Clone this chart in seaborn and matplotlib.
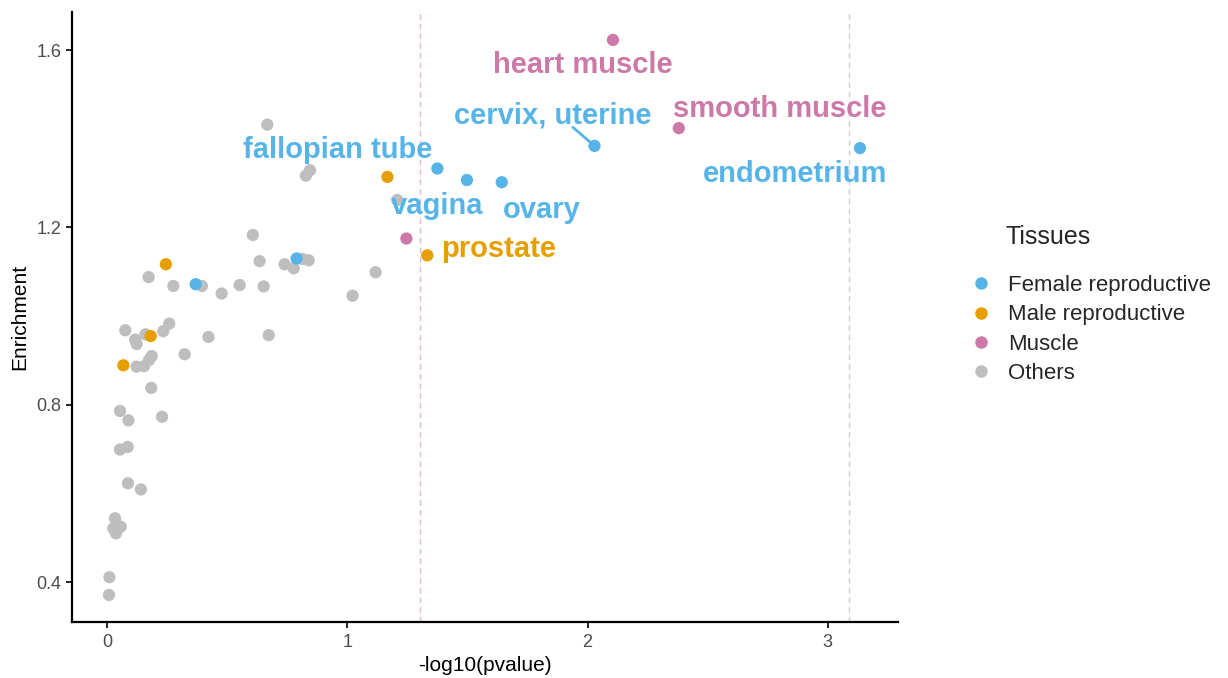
import numpy as np
import pandas as pd
import matplotlib
matplotlib.use("Agg")
import matplotlib.pyplot as plt
import seaborn as sns

# values
female_x = [0.369, 0.789, 1.375, 1.498, 1.643, 2.029, 3.134]
female_y = [1.072, 1.130, 1.333, 1.307, 1.302, 1.384, 1.379]
female_names = ["", "", "fallopian tube", "vagina", "ovary", "cervix, uterine", "endometrium"]

male_x = [0.068, 0.182, 0.245, 1.167, 1.333]
male_y = [0.889, 0.955, 1.117, 1.314, 1.137]
male_names = ["", "", "", "", "prostate"]

muscle_x = [1.246, 2.106, 2.380]
muscle_y = [1.175, 1.623, 1.424]
muscle_names = ["", "heart muscle", "smooth muscle"]

others_x = [0.607, 0.173, 0.276, 0.395, 0.477, 0.552, 0.635, 0.652, 0.739, 0.777,
            0.813, 0.839, 0.076, 0.117, 0.123, 0.160, 0.234, 0.259, 0.422, 0.673,
            0.323, 0.186, 0.175, 0.154, 0.123, 0.184, 0.054, 0.089, 0.229, 0.054,
            0.086, 0.087, 0.141, 0.033, 0.026, 0.057, 0.037, 0.010, 0.008, 0.667,
            0.845, 0.828, 1.208, 1.118, 1.022]
others_y = [1.183, 1.088, 1.068, 1.068, 1.051, 1.070, 1.124, 1.067, 1.117, 1.108,
            1.129, 1.126, 0.968, 0.947, 0.937, 0.959, 0.966, 0.983, 0.953, 0.957,
            0.914, 0.910, 0.901, 0.887, 0.886, 0.838, 0.786, 0.765, 0.773, 0.699,
            0.705, 0.623, 0.609, 0.544, 0.521, 0.525, 0.510, 0.411, 0.371, 1.432,
            1.329, 1.317, 1.262, 1.099, 1.046]

groups = ["Female reproductive", "Male reproductive", "Muscle", "Others"]
colors = ["#56B4E9", "#E69F00", "#CC79A7", "#BEBEBE"]

p_cut = -np.log10(0.05)
bonf_cut = 3.088

# label placement (text centres in data units), repel-style
label_pos = {
    "fallopian tube": (0.961, 1.375),
    "vagina": (1.373, 1.248),
    "ovary": (1.810, 1.240),
    "cervix, uterine": (1.856, 1.452),
    "endometrium": (2.863, 1.320),
    "prostate": (1.631, 1.151),
    "heart muscle": (1.981, 1.566),
    "smooth muscle": (2.801, 1.467),
}
segment_start = {"cervix, uterine": (1.939, 1.426)}

df = pd.concat([
    pd.DataFrame({"x": female_x, "y": female_y, "name": female_names, "Tissues": groups[0]}),
    pd.DataFrame({"x": male_x, "y": male_y, "name": male_names, "Tissues": groups[1]}),
    pd.DataFrame({"x": muscle_x, "y": muscle_y, "name": muscle_names, "Tissues": groups[2]}),
    pd.DataFrame({"x": others_x, "y": others_y, "name": "", "Tissues": groups[3]}),
], ignore_index=True)
# draw the grey ones first so coloured dots sit on top
df["order"] = df["Tissues"].map({groups[3]: 0, groups[0]: 1, groups[1]: 2, groups[2]: 3})
df = df.sort_values("order", kind="stable")

sns.set_style("ticks")
plt.rcParams["font.family"] = ["Liberation Sans", "DejaVu Sans"]

fig = plt.figure(figsize=(12.28, 6.78), dpi=100)
ax = fig.add_axes([0.0586, 0.0826, 0.6726, 0.8997])

ax.axvline(p_cut, color="#E8B4D2", linestyle=(0, (4, 3)), linewidth=1.0, zorder=0)
ax.axvline(bonf_cut, color="#CFCFCF", linestyle=(0, (4, 3)), linewidth=1.0, zorder=0)

pal = dict(zip(groups, colors))
sns.scatterplot(data=df, x="x", y="y", hue="Tissues", hue_order=groups, palette=pal,
                s=78, linewidth=0, alpha=1, ax=ax, zorder=3)

for _, r in df[df["name"] != ""].iterrows():
    tx, ty = label_pos[r["name"]]
    if r["name"] in segment_start:
        sx, sy = segment_start[r["name"]]
        ax.plot([sx, r["x"]], [sy, r["y"]], color=pal[r["Tissues"]], linewidth=2, zorder=2)
    ax.text(tx, ty, r["name"], color=pal[r["Tissues"]], fontsize=21, fontweight="bold",
            ha="center", va="center", zorder=4)

ax.set_xlim(-0.146, 3.292)
ax.set_ylim(0.31, 1.686)
ax.set_xticks([0, 1, 2, 3])
ax.set_yticks([0.4, 0.8, 1.2, 1.6])
ax.set_xticklabels(["0", "1", "2", "3"])
ax.set_yticklabels(["0.4", "0.8", "1.2", "1.6"])
ax.set_xlabel("-log10(pvalue)", fontsize=15, color="black", labelpad=3)
ax.set_ylabel("Enrichment", fontsize=15, color="black", labelpad=5)
ax.tick_params(axis="both", labelsize=13, labelcolor="#4D4D4D", color="black",
               length=4, width=1.2)
ax.tick_params(axis="x", pad=5)
sns.despine(ax=ax)
for sp in ["left", "bottom"]:
    ax.spines[sp].set_linewidth(1.6)
    ax.spines[sp].set_color("black")

handles, labels = ax.get_legend_handles_labels()
for h in handles:
    h.set_markersize(9)
ax.get_legend().remove()
fig.legend(handles, labels, loc="upper left",
           bbox_to_anchor=(0.781, 0.611), frameon=False, fontsize=16,
           labelspacing=0.38, handletextpad=0.7, handlelength=1.0, borderpad=0)
# legend title, aligned with the entry text as ggplot does
fig.text(1006 / 1228, 1 - 237 / 678, "Tissues", fontsize=18, ha="left", va="center")

fig.savefig("out.png", dpi=100)
